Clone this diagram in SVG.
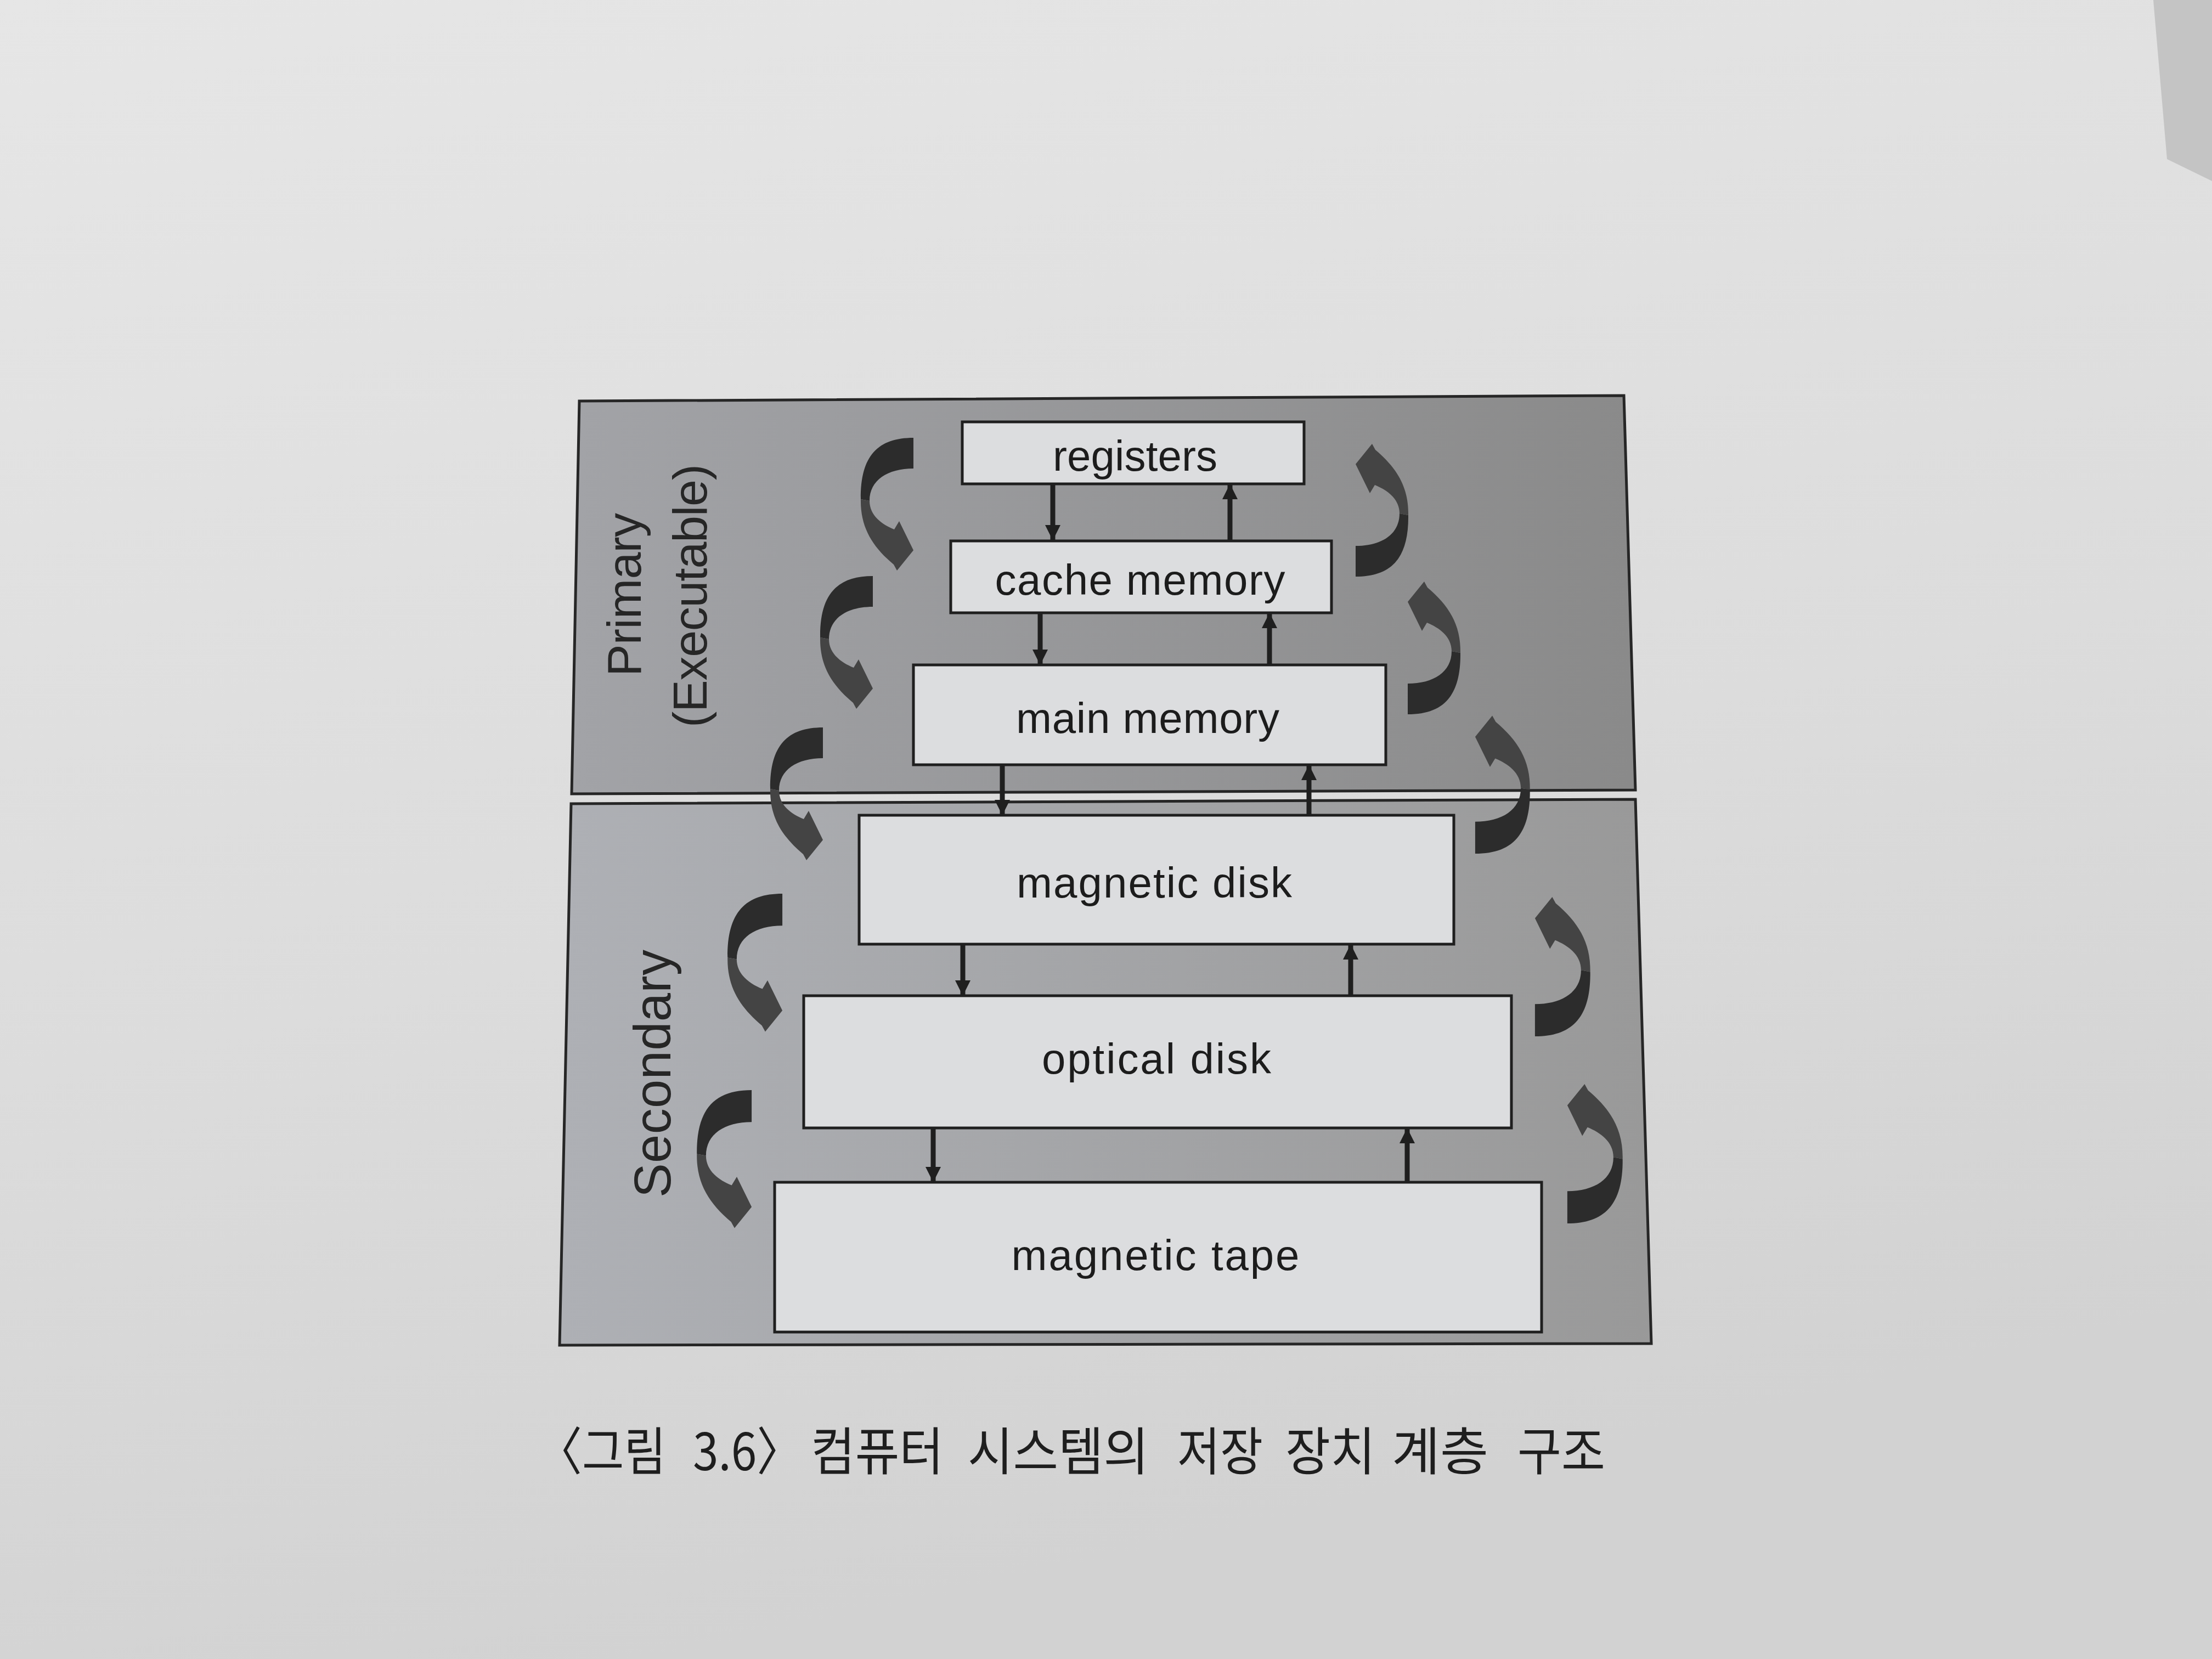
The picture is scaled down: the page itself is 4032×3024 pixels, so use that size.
<svg xmlns="http://www.w3.org/2000/svg" xmlns:xlink="http://www.w3.org/1999/xlink" width="4032" height="3024" viewBox="0 0 4032 3024">
  <style>
    .panel { stroke: #262626; stroke-width: 5; }
    .box { fill: #dcdddf; stroke: #1f1f1f; stroke-width: 5; }
    .lbl { font-family: "Liberation Sans", Arial, sans-serif; font-size: 78px; fill: #1c1c1c; text-anchor: middle; }
    .side { font-family: "Liberation Sans", Arial, sans-serif; font-size: 88px; fill: #262626; text-anchor: middle; }
    .conn { stroke: #1f1f1f; stroke-width: 9; fill: none; marker-end: url(#head); }
    .cap { font-family: "Noto Sans CJK KR", "Noto Sans", sans-serif; font-size: 94px; fill: #1e1e1e; }
  </style>
  <defs>
    <linearGradient id="page" x1="0" y1="0" x2="0.3" y2="1">
      <stop offset="0" stop-color="#e6e6e6"/>
      <stop offset="0.6" stop-color="#dcdcdc"/>
      <stop offset="1" stop-color="#d2d2d2"/>
    </linearGradient>
    <linearGradient id="pfill1" x1="0" y1="0" x2="1" y2="0">
      <stop offset="0" stop-color="#a2a3a7"/>
      <stop offset="1" stop-color="#8a8a8a"/>
    </linearGradient>
    <linearGradient id="pfill2" x1="0" y1="0" x2="1" y2="0">
      <stop offset="0" stop-color="#aeb0b5"/>
      <stop offset="1" stop-color="#999999"/>
    </linearGradient>
    <marker id="head" viewBox="0 0 30 30" refX="30" refY="15" markerWidth="28" markerHeight="28" markerUnits="userSpaceOnUse" orient="auto">
      <path d="M0,0 L30,15 L0,30 Z" fill="#1f1f1f"/>
    </marker>
    <g id="curl">
      <path d="M2,-2 C-62,-2 -95,30 -94,110 L-78,113 C-78,75 -45,54 2,54 Z" fill="#2c2c2c"/>
      <path d="M-94,110 C-95,162 -72,197 -34,229 L-28,240 L2,203 L-24,150 L-33,165 C-55,156 -78,140 -78,113 Z" fill="#444444"/>
    </g>
  </defs>

  <rect x="0" y="0" width="4032" height="3024" fill="url(#page)"/>
  <polygon points="3925,0 4032,0 4032,330 3950,290" fill="#c4c4c4"/>

  <g id="panel-primary">
    <polygon class="panel" points="1056,731 2960,721 2981,1440 1042,1447" fill="url(#pfill1)"/>
    <text class="side" transform="translate(1168,1084) rotate(-90)" textLength="298">Primary</text>
    <text class="side" transform="translate(1288,1086) rotate(-90)" textLength="480">(Executable)</text>
  </g>
  <g id="panel-secondary">
    <polygon class="panel" points="1041,1465 2981,1457 3010,2449 1020,2452" fill="url(#pfill2)"/>
    <text class="side" transform="translate(1222,1957) rotate(-90)" style="font-size:94px" textLength="452">Secondary</text>
  </g>

  <g id="node-registers">
    <rect class="box" x="1754" y="769" width="623" height="113"/>
    <text class="lbl" x="2069" y="858" textLength="300">registers</text>
  </g>
  <g id="node-cache-memory">
    <rect class="box" x="1733" y="986" width="694" height="131"/>
    <text class="lbl" x="2078" y="1084" textLength="529">cache memory</text>
  </g>
  <g id="node-main-memory">
    <rect class="box" x="1665" y="1212" width="861" height="182"/>
    <text class="lbl" x="2092" y="1336" textLength="480">main memory</text>
  </g>
  <g id="node-magnetic-disk">
    <rect class="box" x="1566" y="1486" width="1084" height="235"/>
    <text class="lbl" x="2104" y="1636" textLength="502">magnetic disk</text>
  </g>
  <g id="node-optical-disk">
    <rect class="box" x="1465" y="1815" width="1290" height="241"/>
    <text class="lbl" x="2108" y="1957" textLength="418">optical disk</text>
  </g>
  <g id="node-magnetic-tape">
    <rect class="box" x="1412" y="2155" width="1398" height="273"/>
    <text class="lbl" x="2106" y="2315" textLength="525">magnetic tape</text>
  </g>

  <g id="connectors">
    <line class="conn" x1="1919" y1="884" x2="1919" y2="985"/>
    <line class="conn" x1="1896" y1="1119" x2="1896" y2="1212"/>
    <line class="conn" x1="1827" y1="1396" x2="1827" y2="1486"/>
    <line class="conn" x1="1755" y1="1723" x2="1755" y2="1815"/>
    <line class="conn" x1="1701" y1="2058" x2="1701" y2="2155"/>
    <line class="conn" x1="2242" y1="984" x2="2242" y2="882"/>
    <line class="conn" x1="2314" y1="1210" x2="2314" y2="1117"/>
    <line class="conn" x1="2386" y1="1484" x2="2386" y2="1394"/>
    <line class="conn" x1="2462" y1="1813" x2="2462" y2="1721"/>
    <line class="conn" x1="2565" y1="2153" x2="2565" y2="2056"/>

    <use xlink:href="#curl" transform="translate(1663,800)"/>
    <use xlink:href="#curl" transform="translate(1589,1052)"/>
    <use xlink:href="#curl" transform="translate(1498,1328)"/>
    <use xlink:href="#curl" transform="translate(1424,1631) scale(1.04)"/>
    <use xlink:href="#curl" transform="translate(1368,1989) scale(1.04)"/>

    <use xlink:href="#curl" transform="translate(2473,1049) rotate(180)"/>
    <use xlink:href="#curl" transform="translate(2568,1300) rotate(180)"/>
    <use xlink:href="#curl" transform="translate(2691,1554) rotate(180) scale(1.04)"/>
    <use xlink:href="#curl" transform="translate(2800,1887) rotate(180) scale(1.05)"/>
    <use xlink:href="#curl" transform="translate(2859,2228) rotate(180) scale(1.05)"/>
  </g>

  <g id="caption">
    <text class="cap" y="2680"><tspan x="978" textLength="236" lengthAdjust="spacingAndGlyphs">〈그림</tspan> <tspan x="1263" textLength="200" lengthAdjust="spacingAndGlyphs">3.6〉</tspan> <tspan x="1478" textLength="242" lengthAdjust="spacingAndGlyphs">컴퓨터</tspan> <tspan x="1764" textLength="330" lengthAdjust="spacingAndGlyphs">시스템의</tspan> <tspan x="2146" textLength="156" lengthAdjust="spacingAndGlyphs">저장</tspan> <tspan x="2343" textLength="164" lengthAdjust="spacingAndGlyphs">장치</tspan> <tspan x="2537" textLength="176" lengthAdjust="spacingAndGlyphs">계층</tspan> <tspan x="2766" textLength="160" lengthAdjust="spacingAndGlyphs">구조</tspan></text>
  </g>
</svg>
